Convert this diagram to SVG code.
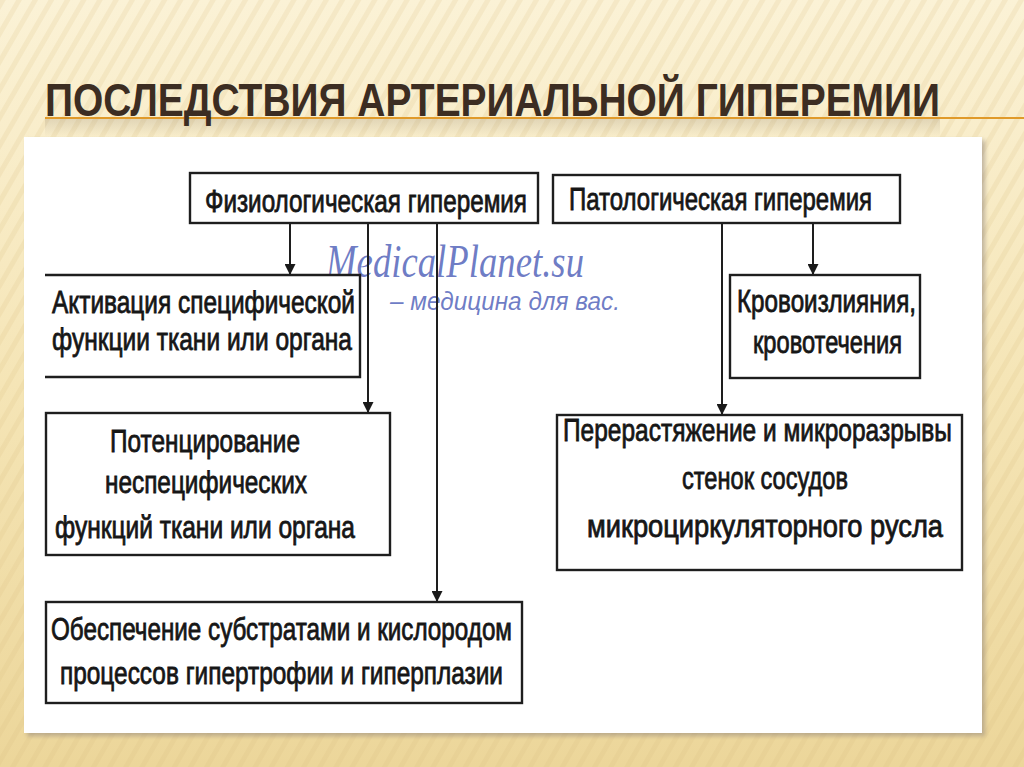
<svg xmlns="http://www.w3.org/2000/svg" width="1024" height="767" viewBox="0 0 1024 767">
  <defs>
    <linearGradient id="bg" x1="0" y1="0" x2="0" y2="1">
      <stop offset="0" stop-color="#fbf2d6"/>
      <stop offset="0.5" stop-color="#f5e5b6"/>
      <stop offset="1" stop-color="#ecd69a"/>
    </linearGradient>
    <pattern id="stripes" width="14" height="14" patternUnits="userSpaceOnUse" patternTransform="rotate(30)">
      <rect width="5" height="14" fill="#d9bf80" opacity="0.18"/>
    </pattern>
    <linearGradient id="reflg" x1="0" y1="0" x2="0" y2="1">
      <stop offset="0" stop-color="#3c2d22" stop-opacity="0.25"/>
      <stop offset="1" stop-color="#3c2d22" stop-opacity="0"/>
    </linearGradient>
    <filter id="shadow" x="-5%" y="-5%" width="110%" height="110%">
      <feGaussianBlur stdDeviation="2"/>
    </filter>
    <marker id="arr" viewBox="0 0 10 10" refX="10" refY="5" markerWidth="11" markerHeight="11" markerUnits="userSpaceOnUse" orient="auto">
      <path d="M0,0 L10,5 L0,10 Z" fill="#1a1a1a"/>
    </marker>
  </defs>
  <style>
    .box { fill: #ffffff; stroke: #1e1e1e; stroke-width: 2.4; }
    .edge { fill: none; stroke: #1e1e1e; stroke-width: 2; }
    .t { font-family: "Liberation Sans", Arial, sans-serif; font-size: 31px; fill: #161616; stroke: #161616; stroke-width: 0.8; }
    .title { font-family: "Liberation Sans", Arial, sans-serif; font-weight: bold; font-size: 46px; fill: #3c2d22; }
    .wm1 { font-family: "Liberation Serif", "Times New Roman", serif; font-style: italic; font-size: 46px; fill: #5566bb; fill-opacity: 0.85; }
    .wm2 { font-family: "Liberation Sans", Arial, sans-serif; font-style: italic; font-size: 25px; fill: #5566bb; fill-opacity: 0.85; }
  </style>

  <!-- background -->
  <rect x="0" y="0" width="1024" height="767" fill="url(#bg)"/>
  <rect x="0" y="0" width="1024" height="767" fill="url(#stripes)"/>

  <!-- title -->
  <g id="title">
    <rect x="45" y="119" width="895" height="18" fill="url(#reflg)" opacity="0.5"/>
    <line x1="45" y1="118" x2="1024" y2="118" stroke="#e09a2a" stroke-width="2"/>
    <text class="title" transform="translate(45,116) scale(0.82,1)" textLength="1091.5" lengthAdjust="spacingAndGlyphs">ПОСЛЕДСТВИЯ АРТЕРИАЛЬНОЙ ГИПЕРЕМИИ</text>
  </g>

  <!-- white panel -->
  <rect x="27" y="140" width="958" height="596" fill="#8a7f78" opacity="0.5" filter="url(#shadow)"/>
  <rect x="24" y="137" width="958" height="596" fill="#ffffff"/>

  <!-- watermark -->
  <g id="watermark">
    <text class="wm1" x="326" y="277" textLength="258" lengthAdjust="spacingAndGlyphs">MedicalPlanet.su</text>
    <text class="wm2" x="390" y="310" textLength="230" lengthAdjust="spacingAndGlyphs">– медицина для вас.</text>
  </g>

  <!-- connectors -->
  <g id="connectors">
    <line class="edge" x1="290" y1="223" x2="290" y2="275" marker-end="url(#arr)"/>
    <line class="edge" x1="368" y1="223" x2="368" y2="413" marker-end="url(#arr)"/>
    <line class="edge" x1="437" y1="223" x2="437" y2="602" marker-end="url(#arr)"/>
    <line class="edge" x1="722" y1="223" x2="722" y2="415" marker-end="url(#arr)"/>
    <line class="edge" x1="813" y1="223" x2="813" y2="275" marker-end="url(#arr)"/>
  </g>

  <!-- nodes -->
  <g id="node-fiz">
    <rect class="box" x="190" y="173" width="348" height="50"/>
    <text class="t" transform="translate(205,212) scale(0.76,1)" textLength="423.7" lengthAdjust="spacingAndGlyphs">Физиологическая гиперемия</text>
  </g>

  <g id="node-pat">
    <rect class="box" x="553" y="175" width="347" height="48"/>
    <text class="t" transform="translate(569,210) scale(0.76,1)" textLength="398.7" lengthAdjust="spacingAndGlyphs">Патологическая гиперемия</text>
  </g>

  <g id="node-activ">
    <rect x="45" y="275" width="315" height="102" fill="#ffffff"/>
    <path class="box" d="M45,275 H360 V377 H45" fill="none"/>
    <text class="t" transform="translate(52,313) scale(0.76,1)" textLength="398.7" lengthAdjust="spacingAndGlyphs">Активация специфической</text>
    <text class="t" transform="translate(52,350) scale(0.76,1)" textLength="394.7" lengthAdjust="spacingAndGlyphs">функции ткани или органа</text>
  </g>

  <g id="node-potenc">
    <rect class="box" x="46" y="413" width="344" height="142"/>
    <text class="t" transform="translate(110,452) scale(0.76,1)" textLength="250" lengthAdjust="spacingAndGlyphs">Потенцирование</text>
    <text class="t" transform="translate(105,493) scale(0.76,1)" textLength="265.8" lengthAdjust="spacingAndGlyphs">неспецифических</text>
    <text class="t" transform="translate(55,538) scale(0.76,1)" textLength="394.7" lengthAdjust="spacingAndGlyphs">функций ткани или органа</text>
  </g>

  <g id="node-obesp">
    <rect class="box" x="46" y="602" width="476" height="101"/>
    <text class="t" transform="translate(51,640) scale(0.76,1)" textLength="606.6" lengthAdjust="spacingAndGlyphs">Обеспечение субстратами и кислородом</text>
    <text class="t" transform="translate(60,684) scale(0.76,1)" textLength="582.9" lengthAdjust="spacingAndGlyphs">процессов гипертрофии и гиперплазии</text>
  </g>

  <g id="node-krov">
    <rect class="box" x="730" y="275" width="190" height="103"/>
    <text class="t" transform="translate(737,312) scale(0.76,1)" textLength="235.5" lengthAdjust="spacingAndGlyphs">Кровоизлияния,</text>
    <text class="t" transform="translate(753,353) scale(0.76,1)" textLength="196.1" lengthAdjust="spacingAndGlyphs">кровотечения</text>
  </g>

  <g id="node-perer">
    <rect class="box" x="557" y="415" width="405" height="155"/>
    <text class="t" transform="translate(563,441) scale(0.76,1)" textLength="511.8" lengthAdjust="spacingAndGlyphs">Перерастяжение и микроразрывы</text>
    <text class="t" transform="translate(682,489) scale(0.76,1)" textLength="218.4" lengthAdjust="spacingAndGlyphs">стенок сосудов</text>
    <text class="t" transform="translate(587,537) scale(0.76,1)" textLength="468.4" lengthAdjust="spacingAndGlyphs">микроциркуляторного русла</text>
  </g>
</svg>
